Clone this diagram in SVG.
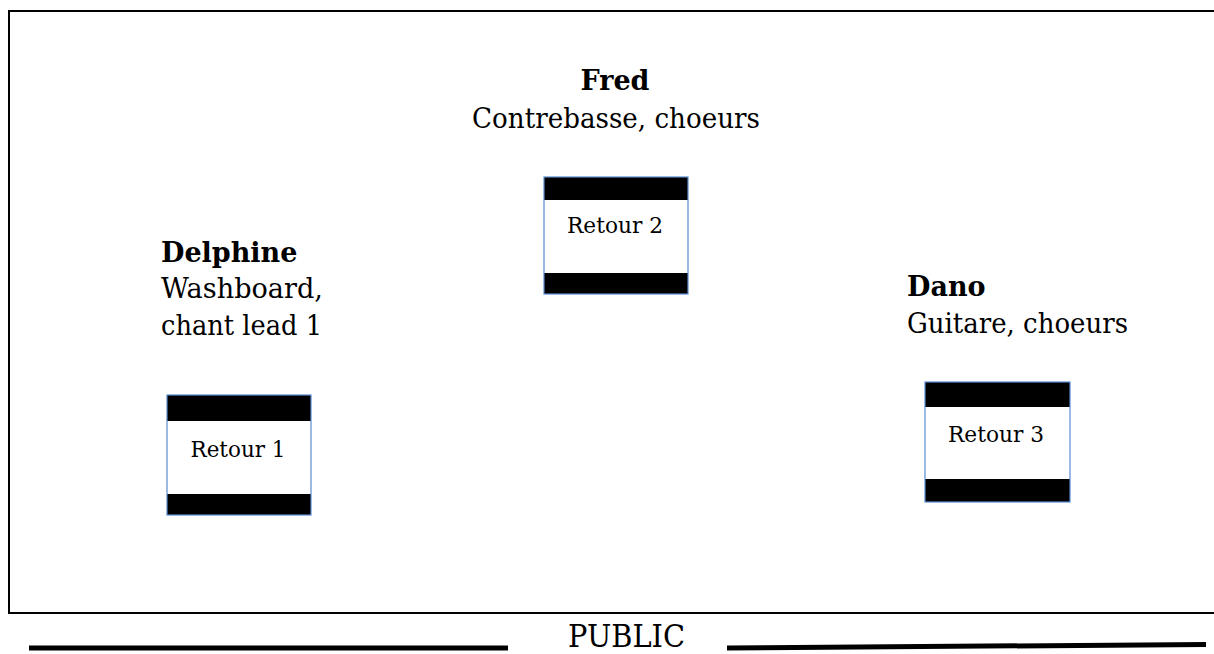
<svg xmlns="http://www.w3.org/2000/svg" width="1214" height="654" viewBox="0 0 1214 654">
<style>
.t{font-family:"DejaVu Serif","Liberation Serif",serif;fill:#000}
.n{font-size:27px;font-weight:bold}
.d{font-size:27px}
.r{font-size:22px}
.bg{fill:#fff}
.box{fill:none;stroke:#5b8bd0;stroke-width:1.2}
.band{fill:#000}
</style>
<rect width="1214" height="654" fill="#fff"/>
<rect x="9" y="11" width="1220" height="602" fill="none" stroke="#000" stroke-width="2"/>
<g id="fred">
<text class="t n" x="615" y="90" text-anchor="middle">Fred</text>
<text class="t d" x="472" y="128" textLength="288" lengthAdjust="spacingAndGlyphs">Contrebasse, choeurs</text>
</g>
<g id="delphine">
<text class="t n" x="161" y="262">Delphine</text>
<text class="t d" x="161" y="298" textLength="162" lengthAdjust="spacingAndGlyphs">Washboard,</text>
<text class="t d" x="161" y="335" textLength="161" lengthAdjust="spacingAndGlyphs">chant lead 1</text>
</g>
<g id="dano">
<text class="t n" x="907" y="296">Dano</text>
<text class="t d" x="907" y="333" textLength="221" lengthAdjust="spacingAndGlyphs">Guitare, choeurs</text>
</g>
<g id="retour2">
<rect class="bg" x="544" y="177" width="144" height="117"/>
<rect class="band" x="544" y="177" width="144" height="23"/>
<rect class="band" x="544" y="273" width="144" height="21"/>
<rect class="box" x="544" y="177" width="144" height="117"/>
<text class="t r" x="615" y="233" text-anchor="middle" textLength="96" lengthAdjust="spacingAndGlyphs">Retour 2</text>
</g>
<g id="retour1">
<rect class="bg" x="167" y="395" width="144" height="120"/>
<rect class="band" x="167" y="395" width="144" height="26"/>
<rect class="band" x="167" y="494" width="144" height="21"/>
<rect class="box" x="167" y="395" width="144" height="120"/>
<text class="t r" x="238" y="457" text-anchor="middle" textLength="95" lengthAdjust="spacingAndGlyphs">Retour 1</text>
</g>
<g id="retour3">
<rect class="bg" x="925" y="382" width="145" height="120"/>
<rect class="band" x="925" y="382" width="145" height="25"/>
<rect class="band" x="925" y="479" width="145" height="23"/>
<rect class="box" x="925" y="382" width="145" height="120"/>
<text class="t r" x="996" y="442" text-anchor="middle" textLength="96" lengthAdjust="spacingAndGlyphs">Retour 3</text>
</g>
<g id="public">
<text class="t" x="568" y="647" font-size="31" textLength="117" lengthAdjust="spacingAndGlyphs">PUBLIC</text>
</g>
<g id="connectors">
<line x1="29" y1="648" x2="508" y2="648" stroke="#000" stroke-width="5"/>
<line x1="727" y1="648" x2="1206" y2="644.5" stroke="#000" stroke-width="5"/>
</g>
</svg>
